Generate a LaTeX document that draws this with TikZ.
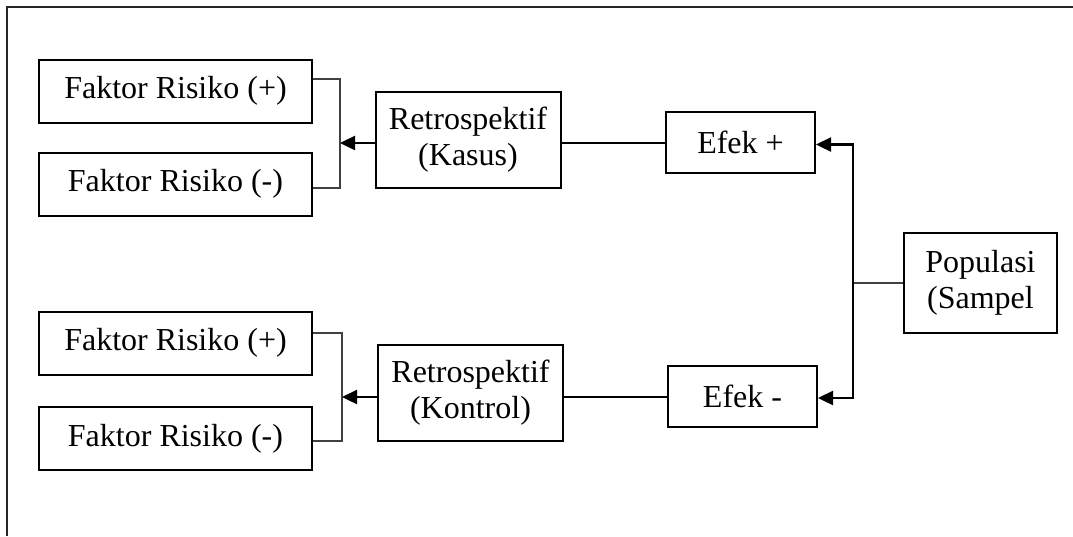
\documentclass[tikz,border=0pt]{standalone}
\usepackage{fontspec}
\setmainfont{Liberation Serif}
\usetikzlibrary{arrows.meta,calc}

\begin{document}
\begin{tikzpicture}[
  x=1pt, y=-1pt,
  font=\fontsize{32}{36}\selectfont,
  box/.style={draw, line width=2pt, align=center, inner sep=0pt},
  fak/.style={box, minimum width=273pt, minimum height=63pt},
  ret/.style={box, minimum width=185pt, minimum height=96pt},
  efk/.style={box, minimum width=149pt, minimum height=61pt},
  brk/.style={draw=black!75, line width=1.3pt},
  arr/.style={line width=2.4pt, -{Triangle[length=15pt, width=14pt]}},
  lin/.style={line width=2pt}
]
\useasboundingbox (0,0) rectangle (1073,536);
\draw[line width=2pt, black!85] (7,536) -- (7,7) -- (1073,7);

\node[fak] (fr1) at (175.5, 91.0) {Faktor Risiko (+)};
\node[fak] (fr2) at (175.5,184.0) {Faktor Risiko (-)};
\node[fak] (fr3) at (175.5,343.0) {Faktor Risiko (+)};
\node[fak] (fr4) at (175.5,438.5) {Faktor Risiko (-)};

\node[ret] (kasus)   at (468.0,140.0) {Retrospektif\\(Kasus)};
\node[ret] (kontrol) at (470.5,393.0) {Retrospektif\\(Kontrol)};

\node[efk] (efp) at (740.5,142.5) {Efek +};
\node[efk] (efm) at (742.5,396.0) {Efek -};

\node[box, minimum width=153pt, minimum height=100pt] (pop) at (980.5,283.0) {Populasi\\(Sampel};

% brackets joining the risk factors
\coordinate (b1) at (340,143);
\coordinate (b2) at (342,397);
\draw[brk] ([yshift=12pt]fr1.east) -| (b1) |- ([yshift=-4pt]fr2.east);
\draw[brk] ([yshift=10pt]fr3.east) -| (b2) |- ([yshift=-2.5pt]fr4.east);

\draw[arr] (kasus.west |- b1) -- (b1);
\draw[arr] (kontrol.west |- b2) -- (b2);
\draw[lin] (efp.west |- b1) -- (kasus.east |- b1);
\draw[lin] (efm.west |- b2) -- (kontrol.east |- b2);

% split from the population
\coordinate (sp) at (853,283);
\draw[brk] (pop.west) -- (sp);
\draw[arr] (sp) |- ([yshift=-2pt]efp.east);
\draw[arr] (sp) |- ([yshift=-2pt]efm.east);
\end{tikzpicture}
\end{document}
